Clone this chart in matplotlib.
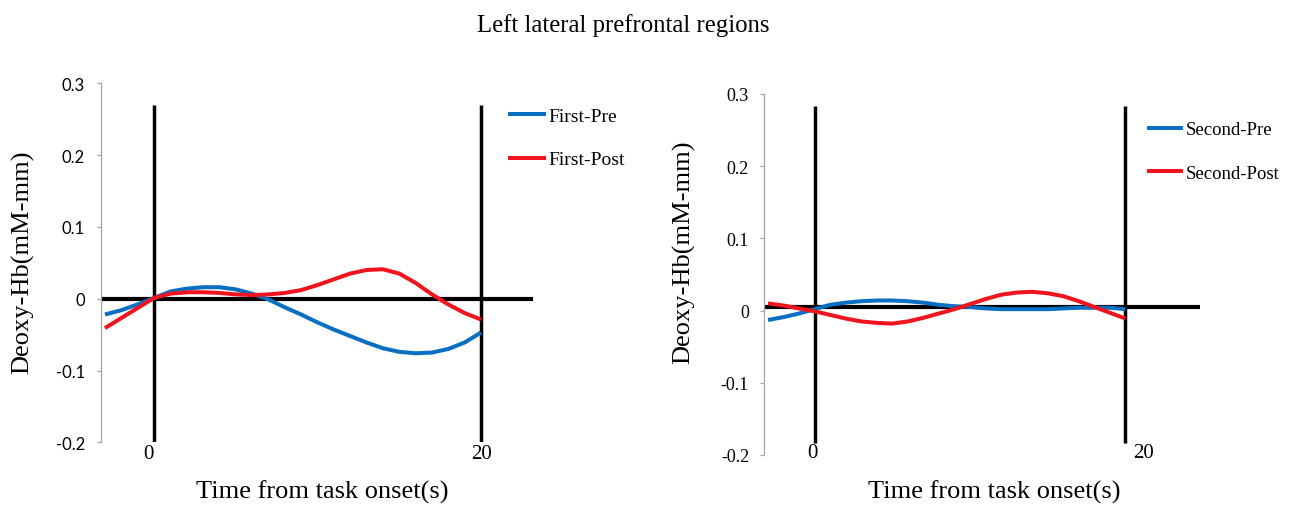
import matplotlib
matplotlib.use("Agg")
import matplotlib.pyplot as plt
from matplotlib.transforms import ScaledTranslation

# ---------------- data ----------------
time_s = [-3, -2, -1, 0, 1, 2, 3, 4, 5, 6, 7, 8, 9, 10, 11, 12, 13, 14, 15, 16, 17, 18, 19, 20]

first_pre = [-0.022, -0.016, -0.008, 0.001, 0.010, 0.014, 0.016, 0.016, 0.013, 0.007, -0.001, -0.012,
             -0.022, -0.033, -0.043, -0.052, -0.061, -0.069, -0.074, -0.076, -0.075, -0.070, -0.061, -0.047]
first_post = [-0.041, -0.027, -0.013, 0.001, 0.007, 0.009, 0.009, 0.008, 0.006, 0.005, 0.006, 0.008,
              0.012, 0.019, 0.027, 0.035, 0.040, 0.041, 0.035, 0.022, 0.006, -0.008, -0.020, -0.029]

second_pre = [-0.013, -0.009, -0.004, 0.002, 0.008, 0.011, 0.013, 0.014, 0.014, 0.013, 0.011, 0.008,
              0.006, 0.005, 0.003, 0.002, 0.002, 0.002, 0.002, 0.003, 0.004, 0.004, 0.004, 0.002]
second_post = [0.010, 0.007, 0.003, -0.001, -0.006, -0.011, -0.015, -0.017, -0.018, -0.015, -0.010, -0.004,
               0.002, 0.009, 0.016, 0.022, 0.025, 0.026, 0.024, 0.020, 0.013, 0.005, -0.003, -0.011]

y_ticks = [-0.2, -0.1, 0.0, 0.1, 0.2, 0.3]
y_tick_labels = ["-0.2", "-0.1", "0", "0.1", "0.2", "0.3"]
x_ticks = [0, 20]
x_tick_labels = ["0", "20"]

marker_times = [0, 20]                 # task onset / offset lines
left_marker_span = (-0.2, 0.27)
right_marker_span = (-0.183, 0.283)
left_baseline = 0.0
right_baseline = 0.005

title = "Left lateral prefrontal regions"
xlabel = "Time from task onset(s)"
ylabel = "Deoxy-Hb(mM-mm)"
left_names = ["First-Pre", "First-Post"]
right_names = ["Second-Pre", "Second-Post"]

# ---------------- style ----------------
SERIF = "Liberation Serif"
SANS = "Lato"
BLUE = "#0a6fc2"
RED = "#f0141e"
GRAY = "#a6a6a6"

W, H = 1293, 510
fig = plt.figure(figsize=(W / 100, H / 100), dpi=100)


def px_axes(x0, y0, x1, y1):
    return fig.add_axes([x0 / W, 1 - y1 / H, (x1 - x0) / W, (y1 - y0) / H])


axL = px_axes(101, 84.3, 533, 443.3)
axR = px_axes(764.3, 95, 1200, 456)


def setup(ax, xlim, tick_font, tick_size, tick_pad, marker_span, baseline,
          pre, post, names, leg_anchor, leg_size, leg_space, xpad,
          ylab_x, ylab_y, xlab_x, xlab_y):
    ax.set_xlim(*xlim)
    ax.set_ylim(-0.2, 0.3)
    for s in ("top", "right", "bottom"):
        ax.spines[s].set_visible(False)
    ax.spines["left"].set_color(GRAY)
    ax.spines["left"].set_linewidth(0.9)

    ax.set_yticks(y_ticks, y_tick_labels)
    ax.tick_params(axis="y", direction="out", length=3, width=0.9, color=GRAY, pad=tick_pad)
    for lab in ax.get_yticklabels():
        lab.set_fontfamily(tick_font)
        lab.set_fontsize(tick_size)

    ax.set_xticks(x_ticks, x_tick_labels)
    ax.tick_params(axis="x", length=0, pad=xpad)
    for lab in ax.get_xticklabels():
        lab.set_fontfamily(SERIF)
        lab.set_fontsize(15)

    # reference lines
    ax.axhline(baseline, color="black", lw=3.0, zorder=2)
    ax.vlines(marker_times, marker_span[0], marker_span[1], color="black", lw=2.5, zorder=2)

    ax.plot(time_s, pre, color=BLUE, lw=2.9, label=names[0], zorder=3,
            solid_capstyle="butt", solid_joinstyle="round")
    ax.plot(time_s, post, color=RED, lw=2.9, label=names[1], zorder=3,
            solid_capstyle="butt", solid_joinstyle="round")

    ax.set_ylabel(ylabel, fontfamily=SERIF, fontsize=19)
    ax.yaxis.set_label_coords(ylab_x, ylab_y)
    ax.set_xlabel(xlabel, fontfamily=SERIF, fontsize=19)
    ax.xaxis.set_label_coords(xlab_x, xlab_y)

    ax.legend(loc="upper left", bbox_to_anchor=(leg_anchor[0] / W, 1 - leg_anchor[1] / H),
              bbox_transform=fig.transFigure, frameon=False, borderpad=0, borderaxespad=0,
              handlelength=1.95, handletextpad=0.12, labelspacing=leg_space,
              prop={"family": SERIF, "size": leg_size})
    return ax


setup(axL, (-3.24, 23.18), SANS, 12, 8.5, left_marker_span, left_baseline,
      first_pre, first_post, left_names, (508, 108.5), 14, 1.32, 1,
      -0.155, 0.504, 0.513, -0.103)
setup(axR, (-3.24, 24.8), SERIF, 13, 8, right_marker_span, right_baseline,
      second_pre, second_post, right_names, (1146.7, 122), 13.5, 1.42, -9,
      -0.159, 0.565, 0.527, -0.068)

# nudge tick labels to match reference placement
def nudge(ax, idx, dx_px):
    lab = ax.get_xticklabels()[idx]
    lab.set_transform(lab.get_transform() + ScaledTranslation(dx_px / 100, 0, fig.dpi_scale_trans))

nudge(axL, 0, -6)
nudge(axR, 0, -2)
nudge(axR, 1, 18)

fig.text(623.5 / W, 1 - 26 / H, title, ha="center", va="center", fontfamily=SERIF, fontsize=17.8)

fig.savefig("out.png", dpi=100)
